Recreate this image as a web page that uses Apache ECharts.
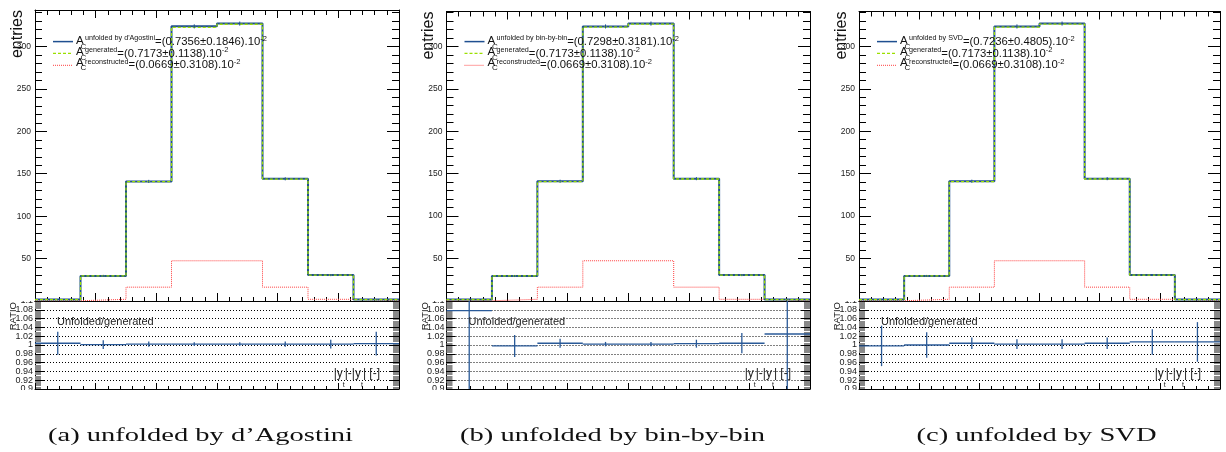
<!DOCTYPE html>
<html><head><meta charset="utf-8">
<script src="https://cdn.jsdelivr.net/npm/echarts@6/dist/echarts.min.js"></script>
<style>html,body{margin:0;padding:0;background:#fff}#c{width:1226px;height:452px}</style>
</head><body><div id="c"></div>
<script>
// ---------------- data ----------------
const binEdges = [-3, -2.25, -1.5, -0.75, 0, 0.75, 1.5, 2.25, 3];
const generated     = [1.7, 29.5, 140.6, 322.6, 326.2, 143.7, 30.4, 1.7];
const reconstructed = [0.3, 2.0, 16.3, 47.4, 47.4, 16.3, 2.0, 0.3];
const unfoldedA = [1.75, 29.6, 141.0, 323.7, 327.0, 144.0, 30.5, 1.75];
const unfoldedB = [1.83, 29.45, 141.1, 323.4, 326.8, 144.1, 30.5, 1.74];
const unfoldedC = [1.70, 29.5, 141.1, 323.4, 326.8, 144.1, 30.6, 1.71];
const unfoldedErrA = [0.6, 1.2, 1.8, 2.4, 2.4, 1.8, 1.2, 0.6];
const unfoldedErrB = [0.6, 1.2, 1.8, 2.4, 2.4, 1.8, 1.2, 0.6];
const unfoldedErrC = [0.6, 1.2, 1.8, 2.4, 2.4, 1.8, 1.2, 0.6];
const ratioA    = [1.004, 1.001, 1.002, 1.002, 1.002, 1.002, 1.002, 1.003];
const ratioErrA = [0.026, 0.010, 0.006, 0.004, 0.004, 0.006, 0.010, 0.027];
const ratioB    = [1.078, 0.998, 1.004, 1.002, 1.002, 1.003, 1.004, 1.025];
const ratioErrB = [0.25, 0.025, 0.010, 0.005, 0.005, 0.009, 0.023, 0.25];
const ratioC    = [0.998, 1.000, 1.004, 1.002, 1.002, 1.004, 1.007, 1.007];
const ratioErrC = [0.046, 0.029, 0.013, 0.011, 0.011, 0.013, 0.029, 0.045];
const unfoldedLabels = ["unfolded by d'Agostini", "unfolded by bin-by-bin", "unfolded by SVD"];
const unfoldedAsym = ["=(0.7356\u00b10.1846).10", "=(0.7298\u00b10.3181).10", "=(0.7236\u00b10.4805).10"];
const generatedAsym = "=(0.7173\u00b10.1138).10";
const reconstructedAsym = "=(0.0669\u00b10.3108).10";
const captions = ["(a) unfolded by d\u2019Agostini", "(b) unfolded by bin-by-bin", "(c) unfolded by SVD"];
const xRange = [-3, 3], xStep = 1;
const entriesMax = [343, 341, 341], entriesStep = 50;
const ratioRange = [0.9, 1.1], ratioStep = 0.02;

// ---------------- layout ----------------
const panelLeft = [35, 446.5, 859];
const panelRight = [399, 810, 1220];
const panelTop = [10, 11.5, 11.5];
const splitY = 301, bottomY = 389;
const captionCx = [200.5, 612.5, 1036.5], captionCy = 436;
const BLUE = '#1f4f90', GREEN = '#9be000', RED = '#ff4040';
const SANS = '"Liberation Sans", Arial, sans-serif';

const unfolded = [unfoldedA, unfoldedB, unfoldedC];
const unfoldedErr = [unfoldedErrA, unfoldedErrB, unfoldedErrC];
const ratios = [ratioA, ratioB, ratioC];
const ratioErrs = [ratioErrA, ratioErrB, ratioErrC];

const grids = [], xAxes = [], yAxes = [], series = [], graphics = [];
const stepData = v => binEdges.map((x, i) => [x, v[Math.min(i, v.length - 1)]]);
const centers = binEdges.slice(0, -1).map((x, i) => (x + binEdges[i + 1]) / 2);
const halfW = binEdges.slice(0, -1).map((x, i) => (binEdges[i + 1] - x) / 2);

function xAx(g, pos, tl, ml) {
  return { gridIndex: g, type: 'value', min: xRange[0], max: xRange[1], interval: xStep, position: pos,
    axisLine: { show: true, onZero: false, lineStyle: { color: '#000', width: 1 } },
    axisTick: { show: tl > 0, inside: true, length: tl, lineStyle: { color: '#000' } },
    minorTick: { show: ml > 0, splitNumber: 5, length: ml, lineStyle: { color: '#000' } },
    axisLabel: { show: false }, splitLine: { show: false } };
}

for (let p = 0; p < 3; p++) {
  const L = panelLeft[p], R = panelRight[p], T = panelTop[p], W = R - L;
  grids.push({ left: L, top: T, width: W, height: splitY - T, outerBoundsMode: 'none' });
  grids.push({ left: L, top: splitY, width: W, height: bottomY - splitY, outerBoundsMode: 'none' });
  const gT = 2 * p, gR = 2 * p + 1;
  xAxes.push(xAx(gT, 'bottom', 8, 4), xAx(gT, 'top', 8, 5), xAx(gR, 'bottom', 6, 3), xAx(gR, 'top', 0, 0));
  const yTop = (pos, lab) => ({ gridIndex: gT, type: 'value', min: 0, max: entriesMax[p], interval: entriesStep, position: pos,
    axisLine: { show: true, onZero: false, lineStyle: { color: '#000' } },
    axisTick: { show: true, inside: true, length: 12, lineStyle: { color: '#000' } },
    minorTick: { show: true, splitNumber: 5, length: 7, lineStyle: { color: '#000' } },
    axisLabel: { show: lab, fontSize: 8.5, margin: 4, color: '#222', fontFamily: SANS, showMinLabel: false, showMaxLabel: false },
    splitLine: { show: false } });
  const yRat = (pos, lab) => ({ gridIndex: gR, type: 'value', min: ratioRange[0], max: ratioRange[1], interval: ratioStep, position: pos,
    axisLine: { show: true, onZero: false, lineStyle: { color: '#000' } },
    axisTick: { show: true, inside: true, length: 9, lineStyle: { color: '#000' } },
    minorTick: { show: true, splitNumber: 8, length: 6, lineStyle: { color: '#888' } },
    axisLabel: { show: lab, fontSize: 9, margin: 2, color: '#222', fontFamily: SANS },
    splitLine: { show: lab, lineStyle: { color: '#000', type: [1, 2], width: 1 } } });
  yAxes.push(yTop('left', true), yTop('right', false), yRat('left', true), yRat('right', false));
  const xi = 4 * p, yi = 4 * p, xr = 4 * p + 2, yr = 4 * p + 2;

  series.push({ type: 'line', xAxisIndex: xi, yAxisIndex: yi, step: 'end', symbol: 'none', data: stepData(reconstructed),
    lineStyle: { color: RED, width: 1, type: [1, 1] }, z: 2 });
  series.push({ type: 'line', xAxisIndex: xi, yAxisIndex: yi, step: 'end', symbol: 'none', data: stepData(unfolded[p]),
    lineStyle: { color: BLUE, width: 2 }, z: 3 });
  series.push({ type: 'line', xAxisIndex: xi, yAxisIndex: yi, step: 'end', symbol: 'none', data: stepData(generated),
    lineStyle: { color: GREEN, width: 1.3, type: [3, 2] }, z: 4 });
  series.push({ type: 'custom', xAxisIndex: xi, yAxisIndex: yi, z: 5,
    data: centers.map((c, i) => [c, unfolded[p][i], unfoldedErr[p][i]]),
    renderItem: (params, api) => {
      const a = api.coord([api.value(0), api.value(1) - api.value(2)]);
      const b = api.coord([api.value(0), api.value(1) + api.value(2)]);
      return { type: 'line', shape: { x1: a[0], y1: a[1], x2: b[0], y2: b[1] }, style: { stroke: BLUE, lineWidth: 1 } };
    } });
  series.push({ type: 'custom', xAxisIndex: xr, yAxisIndex: yr, z: 5,
    data: centers.map((c, i) => [c, ratios[p][i], ratioErrs[p][i], halfW[i]]),
    renderItem: (params, api) => {
      const cs = params.coordSys;
      const cy = v => Math.max(cs.y, Math.min(cs.y + cs.height, v));
      const x = api.value(0), r = api.value(1), e = api.value(2), h = api.value(3);
      const a = api.coord([x - h, r]), b = api.coord([x + h, r]);
      const t = api.coord([x, r + e]), u = api.coord([x, r - e]);
      const st = { stroke: '#2a5a98', lineWidth: 1.3 };
      return { type: 'group', children: [
        { type: 'line', shape: { x1: a[0], y1: a[1], x2: b[0], y2: b[1] }, style: st },
        { type: 'line', shape: { x1: t[0], y1: cy(t[1]), x2: u[0], y2: cy(u[1]) }, style: st } ] };
    } });

  // ---- legend (ROOT-style, inside the frame) ----
  const rowY = [41.6, 53.4, 65.3], aY = [41.3, 51.8, 62.5];
  const sup = [unfoldedLabels[p], 'generated', 'reconstructed'];
  const main = [unfoldedAsym[p], generatedAsym, reconstructedAsym];
  const sty = [{ stroke: BLUE, lineWidth: 1.5 }, { stroke: GREEN, lineWidth: 1.3, lineDash: [3, 2] }, { stroke: RED, lineWidth: 1, lineDash: [1, 1] }];
  for (let k = 0; k < 3; k++) {
    graphics.push({ type: 'line', z: 20, shape: { x1: L + 18, y1: rowY[k], x2: L + 38, y2: rowY[k] }, style: sty[k] });
    graphics.push({ type: 'text', z: 20, x: L + 41, y: aY[k], style: { text: 'A', font: '11.5px ' + SANS, fill: '#111', verticalAlign: 'middle' } });
    graphics.push({ type: 'text', z: 20, x: L + 45.5, y: aY[k] + 5.5, style: { text: 'C', font: '8px ' + SANS, fill: '#111', verticalAlign: 'middle' } });
    graphics.push({ type: 'text', z: 20, x: L + 50, y: rowY[k], style: {
      text: '{s|' + sup[k] + '}{m|' + main[k] + '}{e|-2}', verticalAlign: 'middle', fill: '#111',
      rich: { s: { fontSize: 7.2, fontFamily: SANS, lineHeight: 6, verticalAlign: 'top', fill: '#111' },
              m: { fontSize: 11.3, fontFamily: SANS, lineHeight: 14, verticalAlign: 'middle', fill: '#111' },
              e: { fontSize: 7.5, fontFamily: SANS, lineHeight: 4, verticalAlign: 'top', fill: '#111' } } } });
  }
  graphics.push({ type: 'text', z: 20, x: L + 22, y: 321.7, style: { text: 'Unfolded/generated', font: '11px ' + SANS, fill: '#222', verticalAlign: 'middle' } });
  graphics.push({ type: 'text', z: 20, x: R - 19, y: 368, style: {
    text: '{m||y}{s|t}{m||-|y}{s|t}{m|| [-]}', align: 'right', verticalAlign: 'top', fill: '#222',
    rich: { m: { fontSize: 12, fontFamily: SANS, lineHeight: 14, verticalAlign: 'top', fill: '#222' },
            s: { fontSize: 7, fontFamily: SANS, lineHeight: 8, padding: [14, 0, 0, 0], verticalAlign: 'top', fill: '#222' } } } });
  graphics.push({ type: 'text', z: 20, x: L - 17.5, y: T, rotation: Math.PI / 2,
    style: { text: 'entries', font: '16px ' + SANS, fill: '#111', align: 'right', verticalAlign: 'middle' } });
  graphics.push({ type: 'text', z: 20, x: L - 21.5, y: 302, rotation: Math.PI / 2,
    style: { text: 'RATIO', font: '9.5px ' + SANS, fill: '#222', align: 'right', verticalAlign: 'middle' } });
  // pads clip the outer ratio labels
  graphics.push({ type: 'rect', z: 15, shape: { x: L - 30, y: 292, width: 29, height: 9 }, style: { fill: '#fff' } });
}
graphics.push({ type: 'rect', z: 15, shape: { x: 0, y: bottomY + 1, width: 1226, height: 25 }, style: { fill: '#fff' } });

// captions (LaTeX serif), stretched to the reference width
const ctx = document.createElement('canvas').getContext('2d');
const CFONT = '19px "Liberation Serif", "Times New Roman", serif';
ctx.font = CFONT;
const capScale = 305 / ctx.measureText(captions[0]).width;
captions.forEach((c, i) => graphics.push({ type: 'text', z: 20, x: captionCx[i], y: captionCy, scaleX: capScale,
  style: { text: c, font: CFONT, fill: '#111', align: 'center', verticalAlign: 'middle' } }));

const chart = echarts.init(document.getElementById('c'), null, { renderer: 'canvas' });
chart.setOption({ animation: false, backgroundColor: '#fff', grid: grids, xAxis: xAxes, yAxis: yAxes, series, graphic: graphics });
</script></body></html>
